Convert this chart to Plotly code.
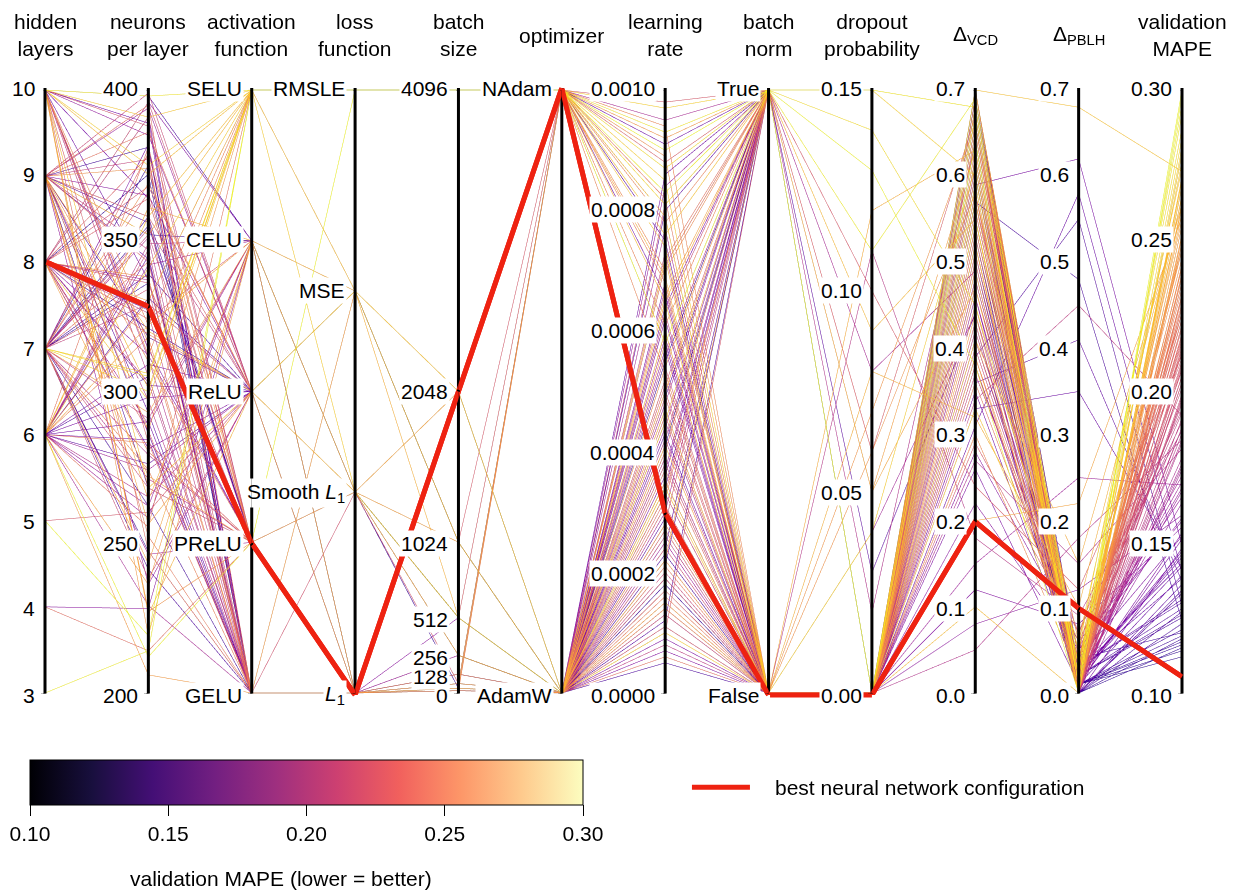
import plotly.graph_objects as go
import plotly.colors as pc

# ---------------- hyper-parameter search results ----------------
hidden_layers = [
    8, 9, 7, 6, 10, 9, 8, 7, 6, 9,
    7, 8, 10, 6, 9, 7, 8, 6, 9, 10,
    6, 7, 9, 8, 7, 6, 10, 9, 8, 7,
    9, 6, 8, 7, 4, 9, 6, 7, 8, 10,
    10, 9, 6, 7, 8, 9, 6, 10, 7, 8,
    6, 9, 7, 8, 10, 6, 9, 7, 4, 8,
    9, 10, 7, 6, 8, 9, 7, 6, 10, 8,
    7, 9, 6, 8, 10, 7, 9, 6, 8, 7,
    10, 9, 6, 7, 10, 8, 6, 9, 10, 7,
    6, 3, 10, 9, 5, 6, 10, 7, 9, 6,
    9, 7, 8, 6, 10, 7, 9, 8, 6, 7,
    10, 8, 9, 6, 7, 8, 10, 9, 7, 6,
    8, 9, 7, 10, 6, 8, 9, 7, 5, 8,
    6, 10, 9, 7, 8, 6, 9, 10, 7, 8,
]
neurons_per_layer = [
    372, 318, 355, 290, 398, 344, 281, 336, 305, 365,
    262, 327, 389, 298, 352, 241, 312, 276, 381, 337,
    309, 358, 286, 396, 247, 331, 364, 293, 321, 382,
    268, 345, 302, 375, 228, 356, 284, 339, 391, 314,
    385, 297, 342, 268, 326, 394, 255, 311, 366, 289,
    347, 236, 379, 303, 322, 274, 358, 291, 214, 337,
    399, 283, 351, 262, 319, 377, 246, 330, 305, 368,
    279, 343, 258, 396, 312, 271, 386, 229, 324, 352,
    398, 352, 236, 305, 268, 330, 212, 287, 375, 243,
    206, 214, 391, 320, 219, 358, 227, 300, 264, 341,
    358, 274, 391, 322, 247, 369, 301, 336, 283, 354,
    219, 378, 310, 265, 343, 297, 388, 252, 329, 361,
    287, 374, 238, 316, 349, 272, 395, 306, 260, 338,
    381, 226, 347, 293, 364, 318, 256, 372, 334, 280,
]
# 0 GELU, 1 PReLU, 2 ReLU, 3 CELU, 4 SELU
activation = [
    0, 2, 1, 0, 3, 0, 2, 1, 0, 2,
    0, 1, 0, 2, 3, 0, 1, 2, 0, 0,
    2, 1, 0, 3, 0, 2, 1, 0, 2, 0,
    1, 0, 2, 0, 3, 1, 0, 2, 0, 1,
    2, 0, 3, 1, 0, 2, 4, 0, 1, 3,
    0, 2, 1, 0, 4, 2, 0, 3, 1, 0,
    2, 1, 0, 3, 2, 0, 1, 4, 0, 2,
    1, 0, 3, 2, 4, 1, 2, 0, 3, 1,
    4, 4, 3, 4, 2, 4, 1, 4, 4, 3,
    0, 4, 4, 2, 4, 4, 1, 4, 3, 4,
    2, 0, 1, 3, 0, 2, 4, 1, 0, 2,
    3, 0, 1, 2, 0, 4, 1, 0, 2, 3,
    0, 1, 2, 0, 3, 1, 0, 4, 2, 0,
    1, 2, 0, 3, 1, 0, 2, 4, 0, 1,
]
# 0 L1, 1 Smooth L1, 2 MSE, 3 RMSLE
loss_function = [
    0, 0, 0, 0, 0, 0, 0, 0, 0, 0,
    0, 0, 0, 0, 1, 0, 0, 0, 0, 0,
    0, 0, 0, 0, 0, 0, 0, 0, 0, 0,
    0, 0, 0, 0, 0, 0, 0, 0, 0, 0,
    0, 0, 1, 0, 0, 0, 3, 0, 0, 1,
    0, 0, 0, 2, 3, 0, 1, 0, 0, 0,
    0, 1, 0, 0, 0, 0, 0, 3, 0, 0,
    1, 0, 0, 0, 3, 0, 0, 0, 1, 0,
    3, 3, 1, 3, 2, 3, 3, 2, 3, 1,
    2, 3, 3, 2, 3, 3, 1, 3, 2, 1,
    0, 0, 0, 1, 0, 0, 2, 0, 0, 0,
    1, 0, 0, 0, 0, 3, 0, 0, 0, 2,
    0, 0, 1, 0, 0, 0, 0, 3, 0, 0,
    0, 1, 0, 0, 0, 0, 2, 3, 0, 0,
]
batch_size = [
    32, 64, 16, 32, 64, 128, 32, 16, 64, 32,
    64, 32, 128, 16, 32, 64, 32, 256, 16, 64,
    32, 128, 64, 32, 16, 64, 32, 64, 128, 32,
    16, 32, 64, 32, 512, 64, 16, 32, 64, 128,
    64, 32, 256, 128, 32, 64, 4096, 16, 64, 512,
    32, 128, 64, 1024, 4096, 256, 64, 32, 128, 64,
    32, 512, 64, 128, 32, 16, 64, 4096, 32, 64,
    256, 128, 32, 64, 4096, 32, 64, 128, 1024, 32,
    4096, 4096, 1024, 4096, 2048, 4096, 4096, 1024, 4096, 2048,
    1024, 4096, 4096, 512, 4096, 4096, 2048, 4096, 1024, 512,
    64, 32, 128, 256, 16, 64, 1024, 32, 64, 128,
    512, 32, 64, 16, 32, 4096, 64, 32, 128, 2048,
    32, 64, 256, 16, 64, 32, 128, 4096, 64, 32,
    16, 512, 64, 32, 128, 64, 1024, 4096, 32, 64,
]
# 0 AdamW, 1 NAdam
optimizer = [
    0, 0, 0, 1, 0, 0, 0, 0, 0, 0,
    0, 0, 0, 0, 0, 0, 0, 0, 0, 1,
    0, 0, 0, 0, 0, 0, 0, 1, 0, 0,
    0, 0, 0, 0, 0, 0, 0, 0, 1, 0,
    0, 0, 0, 0, 0, 0, 1, 0, 0, 1,
    0, 0, 0, 0, 1, 0, 0, 0, 0, 0,
    0, 1, 0, 0, 0, 0, 0, 1, 0, 0,
    0, 0, 0, 0, 1, 0, 0, 0, 1, 0,
    1, 1, 0, 1, 0, 1, 1, 0, 1, 0,
    0, 1, 1, 0, 1, 1, 0, 1, 0, 0,
    0, 1, 0, 0, 0, 1, 0, 0, 0, 0,
    0, 0, 1, 0, 0, 1, 0, 0, 0, 0,
    0, 0, 0, 1, 0, 0, 0, 1, 0, 0,
    0, 0, 0, 1, 0, 0, 0, 1, 0, 0,
]
learning_rate = [
    0.00031, 0.00012, 0.00047, 0.00066, 0.00021, 0.00038, 0.00009, 0.00055, 0.00026, 0.00071,
    0.00015, 0.00043, 0.00034, 0.00062, 0.00018, 0.00049, 0.00027, 0.00080, 0.00011, 0.00058,
    0.00036, 0.00023, 0.00052, 0.00007, 0.00041, 0.00029, 0.00064, 0.00075, 0.00019, 0.00045,
    0.00033, 0.00086, 0.00014, 0.00039, 0.00057, 0.00024, 0.00068, 0.00005, 0.00091, 0.00035,
    0.00044, 0.00017, 0.00059, 0.00028, 0.00073, 0.00037, 0.00082, 0.00022, 0.00051, 0.00095,
    0.00013, 0.00046, 0.00032, 0.00067, 0.00061, 0.00025, 0.00054, 0.00008, 0.00040, 0.00077,
    0.00020, 0.00088, 0.00035, 0.00048, 0.00016, 0.00063, 0.00030, 0.00070, 0.00042, 0.00011,
    0.00056, 0.00027, 0.00084, 0.00038, 0.00053, 0.00019, 0.00072, 0.00045, 0.00098, 0.00033,
    0.00093, 0.00079, 0.00050, 0.00087, 0.00034, 0.00069, 0.00058, 0.00022, 0.00097, 0.00041,
    0.00015, 0.00083, 0.00074, 0.00060, 0.00090, 0.00065, 0.00028, 0.00081, 0.00047, 0.00010,
    0.00052, 0.00078, 0.00019, 0.00066, 0.00037, 0.00089, 0.00045, 0.00024, 0.00071, 0.00013,
    0.00058, 0.00031, 0.00094, 0.00042, 0.00006, 0.00076, 0.00049, 0.00028, 0.00063, 0.00035,
    0.00017, 0.00054, 0.00081, 0.00068, 0.00039, 0.00022, 0.00046, 0.00085, 0.00010, 0.00060,
    0.00033, 0.00072, 0.00026, 0.00092, 0.00050, 0.00014, 0.00065, 0.00079, 0.00040, 0.00021,
]
# 0 False, 1 True
batch_norm = [
    0, 1, 0, 0, 1, 0, 0, 1, 0, 1,
    0, 0, 1, 0, 0, 1, 0, 1, 0, 0,
    1, 0, 0, 0, 1, 0, 1, 0, 0, 1,
    0, 1, 0, 0, 0, 1, 0, 0, 1, 0,
    1, 0, 0, 1, 0, 1, 0, 0, 1, 1,
    0, 0, 1, 0, 1, 0, 0, 0, 1, 0,
    0, 1, 0, 1, 0, 0, 1, 1, 0, 0,
    1, 0, 1, 0, 0, 0, 1, 0, 1, 0,
    1, 0, 1, 1, 0, 0, 1, 0, 1, 0,
    0, 1, 0, 0, 1, 0, 0, 1, 0, 0,
    0, 1, 0, 1, 0, 0, 1, 0, 1, 0,
    1, 0, 0, 1, 0, 1, 0, 0, 1, 0,
    0, 1, 1, 0, 0, 1, 0, 0, 1, 0,
    1, 0, 0, 1, 0, 0, 1, 0, 1, 0,
]
dropout = [
    0.00, 0.00, 0.00, 0.00, 0.00, 0.00, 0.00, 0.00, 0.00, 0.00,
    0.00, 0.00, 0.00, 0.00, 0.00, 0.00, 0.00, 0.03, 0.00, 0.00,
    0.00, 0.00, 0.00, 0.00, 0.00, 0.00, 0.00, 0.00, 0.00, 0.00,
    0.00, 0.00, 0.00, 0.00, 0.00, 0.00, 0.00, 0.00, 0.00, 0.00,
    0.00, 0.00, 0.04, 0.00, 0.00, 0.00, 0.00, 0.00, 0.00, 0.08,
    0.00, 0.00, 0.00, 0.11, 0.00, 0.00, 0.00, 0.00, 0.00, 0.00,
    0.00, 0.06, 0.00, 0.00, 0.00, 0.00, 0.00, 0.00, 0.00, 0.00,
    0.02, 0.00, 0.00, 0.00, 0.00, 0.00, 0.00, 0.00, 0.10, 0.00,
    0.15, 0.00, 0.05, 0.14, 0.00, 0.00, 0.13, 0.07, 0.15, 0.00,
    0.00, 0.11, 0.00, 0.08, 0.00, 0.00, 0.06, 0.00, 0.00, 0.04,
    0.00, 0.00, 0.00, 0.00, 0.00, 0.00, 0.09, 0.00, 0.00, 0.00,
    0.00, 0.00, 0.00, 0.00, 0.00, 0.00, 0.00, 0.00, 0.00, 0.12,
    0.00, 0.00, 0.00, 0.00, 0.00, 0.00, 0.00, 0.00, 0.00, 0.00,
    0.00, 0.00, 0.00, 0.00, 0.00, 0.00, 0.05, 0.00, 0.00, 0.00,
]
delta_vcd = [
    0.62, 0.48, 0.69, 0.35, 0.57, 0.66, 0.41, 0.53, 0.70, 0.28,
    0.45, 0.64, 0.38, 0.59, 0.51, 0.68, 0.22, 0.44, 0.61, 0.33,
    0.55, 0.67, 0.47, 0.12, 0.63, 0.39, 0.58, 0.50, 0.69, 0.26,
    0.43, 0.60, 0.36, 0.65, 0.08, 0.54, 0.46, 0.70, 0.31, 0.57,
    0.66, 0.52, 0.44, 0.69, 0.37, 0.61, 0.58, 0.27, 0.65, 0.49,
    0.70, 0.42, 0.56, 0.18, 0.63, 0.46, 0.68, 0.34, 0.53, 0.60,
    0.40, 0.67, 0.05, 0.55, 0.62, 0.48, 0.69, 0.30, 0.57, 0.43,
    0.64, 0.51, 0.15, 0.66, 0.39, 0.59, 0.47, 0.70, 0.24, 0.54,
    0.68, 0.57, 0.63, 0.45, 0.70, 0.52, 0.38, 0.66, 0.60, 0.20,
    0.49, 0.69, 0.55, 0.32, 0.64, 0.10, 0.58, 0.67, 0.41, 0.61,
    0.67, 0.58, 0.49, 0.70, 0.62, 0.41, 0.55, 0.69, 0.36, 0.64,
    0.52, 0.68, 0.45, 0.60, 0.70, 0.33, 0.57, 0.66, 0.48, 0.63,
    0.69, 0.39, 0.61, 0.54, 0.67, 0.44, 0.70, 0.59, 0.29, 0.65,
    0.50, 0.68, 0.42, 0.62, 0.56, 0.70, 0.47, 0.64, 0.38, 0.60,
]
delta_pblh = [
    0.01, 0.03, 0.00, 0.02, 0.48, 0.01, 0.04, 0.00, 0.02, 0.06,
    0.01, 0.00, 0.03, 0.62, 0.01, 0.02, 0.05, 0.00, 0.01, 0.35,
    0.02, 0.00, 0.03, 0.08, 0.01, 0.55, 0.02, 0.00, 0.04, 0.01,
    0.00, 0.02, 0.41, 0.01, 0.12, 0.03, 0.00, 0.02, 0.58, 0.01,
    0.02, 0.00, 0.04, 0.01, 0.07, 0.03, 0.00, 0.15, 0.02, 0.01,
    0.00, 0.05, 0.02, 0.09, 0.01, 0.03, 0.00, 0.45, 0.02, 0.01,
    0.04, 0.00, 0.18, 0.02, 0.01, 0.03, 0.00, 0.02, 0.06, 0.01,
    0.00, 0.03, 0.25, 0.01, 0.02, 0.00, 0.05, 0.01, 0.12, 0.02,
    0.03, 0.01, 0.00, 0.05, 0.68, 0.02, 0.00, 0.04, 0.01, 0.22,
    0.00, 0.02, 0.03, 0.10, 0.01, 0.00, 0.06, 0.02, 0.15, 0.01,
    0.01, 0.02, 0.00, 0.03, 0.01, 0.05, 0.00, 0.02, 0.04, 0.01,
    0.00, 0.03, 0.01, 0.00, 0.02, 0.06, 0.01, 0.00, 0.03, 0.02,
    0.01, 0.04, 0.00, 0.02, 0.01, 0.00, 0.03, 0.01, 0.07, 0.00,
    0.02, 0.01, 0.05, 0.00, 0.03, 0.01, 0.02, 0.00, 0.04, 0.01,
]
validation_mape = [
    0.112, 0.131, 0.118, 0.145, 0.124, 0.139, 0.152, 0.115, 0.128, 0.157,
    0.121, 0.136, 0.143, 0.149, 0.117, 0.126, 0.158, 0.133, 0.119, 0.141,
    0.147, 0.123, 0.138, 0.155, 0.114, 0.129, 0.146, 0.134, 0.120, 0.151,
    0.127, 0.142, 0.137, 0.116, 0.159, 0.130, 0.148, 0.125, 0.140, 0.153,
    0.163, 0.188, 0.172, 0.205, 0.194, 0.168, 0.228, 0.181, 0.213, 0.176,
    0.199, 0.165, 0.221, 0.187, 0.236, 0.170, 0.208, 0.192, 0.224, 0.178,
    0.201, 0.215, 0.184, 0.167, 0.232, 0.196, 0.174, 0.241, 0.190, 0.210,
    0.183, 0.218, 0.169, 0.203, 0.238, 0.186, 0.226, 0.175, 0.212, 0.197,
    0.292, 0.268, 0.255, 0.287, 0.273, 0.261, 0.298, 0.249, 0.281, 0.258,
    0.252, 0.295, 0.276, 0.264, 0.300, 0.270, 0.247, 0.284, 0.262, 0.279,
    0.214, 0.236, 0.198, 0.257, 0.222, 0.244, 0.268, 0.205, 0.229, 0.191,
    0.251, 0.217, 0.239, 0.184, 0.226, 0.274, 0.209, 0.232, 0.196, 0.262,
    0.219, 0.247, 0.203, 0.234, 0.188, 0.255, 0.224, 0.279, 0.211, 0.242,
    0.228, 0.265, 0.193, 0.249, 0.216, 0.238, 0.259, 0.271, 0.207, 0.231,
]

# best configuration: 8 layers, 328 neurons, PReLU, L1, 2048, NAdam, 3e-4, no BN, no dropout
best_config = [8, 328, 1, 0, 2048, 1, 0.0003, 0, 0.0, 0.20, 0.10, 0.106]

# ---------------- axis definitions ----------------
axis_titles = [
    "hidden<br>layers", "neurons<br>per layer", "activation<br>function", "loss<br>function",
    "batch<br>size", "optimizer", "learning<br>rate", "batch<br>norm",
    "dropout<br>probability", "Δ<sub>VCD</sub>", "Δ<sub>PBLH</sub>", "validation<br>MAPE",
]
axis_ranges = [
    [3, 10], [200, 400], [0, 4], [0, 3], [0, 4096], [0, 1],
    [0, 0.001], [0, 1], [0, 0.15], [0, 0.7], [0, 0.7], [0.10, 0.30],
]
axis_tickvals = [
    [3, 4, 5, 6, 7, 8, 9, 10],
    [200, 250, 300, 350, 400],
    [0, 1, 2, 3, 4],
    [0, 1, 2, 3],
    [0, 128, 256, 512, 1024, 2048, 4096],
    [0, 1],
    [0, 0.0002, 0.0004, 0.0006, 0.0008, 0.001],
    [0, 1],
    [0, 0.05, 0.10, 0.15],
    [0, 0.1, 0.2, 0.3, 0.4, 0.5, 0.6, 0.7],
    [0, 0.1, 0.2, 0.3, 0.4, 0.5, 0.6, 0.7],
    [0.10, 0.15, 0.20, 0.25, 0.30],
]
axis_ticktext = [
    ["3", "4", "5", "6", "7", "8", "9", "10"],
    ["200", "250", "300", "350", "400"],
    ["GELU", "PReLU", "ReLU", "CELU", "SELU"],
    ["<i>L</i><sub>1</sub>", "Smooth <i>L</i><sub>1</sub>", "MSE", "RMSLE"],
    ["0", "128", "256", "512", "1024", "2048", "4096"],
    ["AdamW", "NAdam"],
    ["0.0000", "0.0002", "0.0004", "0.0006", "0.0008", "0.0010"],
    ["False", "True"],
    ["0.00", "0.05", "0.10", "0.15"],
    ["0.0", "0.1", "0.2", "0.3", "0.4", "0.5", "0.6", "0.7"],
    ["0.0", "0.1", "0.2", "0.3", "0.4", "0.5", "0.6", "0.7"],
    ["0.10", "0.15", "0.20", "0.25", "0.30"],
]
columns = [
    hidden_layers, neurons_per_layer, activation, loss_function, batch_size, optimizer,
    learning_rate, batch_norm, dropout, delta_vcd, delta_pblh, validation_mape,
]

colorbar_ticks = [0.10, 0.15, 0.20, 0.25, 0.30]
colorbar_labels = ["0.10", "0.15", "0.20", "0.25", "0.30"]

FONT = "Liberation Sans, Arial, Helvetica, sans-serif"
BEST_RED = "#ee2211"
MAPE_MIN, MAPE_MAX = 0.10, 0.30


def translucent(scale, alpha):
    stops = []
    for i, c in enumerate(scale):
        r, g, b = pc.hex_to_rgb(c)
        stops.append([i / (len(scale) - 1), f"rgba({r},{g},{b},{alpha})"])
    return stops


def scaled(value, rng):
    lo, hi = rng
    return (value - lo) / (hi - lo)


# tick marks come from the parcoords axes, the labels are boxed annotations
dimensions = [
    dict(label="", values=col, range=rng, tickvals=tv, ticktext=[""] * len(tv))
    for col, rng, tv in zip(columns, axis_ranges, axis_tickvals)
]

fig = go.Figure()
fig.add_trace(go.Parcoords(
    domain=dict(x=[0, 1], y=[0, 1]),
    dimensions=dimensions,
    line=dict(color=validation_mape, colorscale=translucent(pc.sequential.Plasma, 0.85),
              cmin=MAPE_MIN, cmax=MAPE_MAX, showscale=False),
    tickfont=dict(family=FONT, size=12, color="black"),
    labelfont=dict(family=FONT, size=12, color="black"),
))

n_axes = len(columns)
axis_index = list(range(n_axes))
best_scaled = [scaled(v, rng) for v, rng in zip(best_config, axis_ranges)]

fig.add_trace(go.Scatter(
    x=axis_index, y=best_scaled, mode="lines", cliponaxis=False,
    line=dict(color=BEST_RED, width=5),
    name="best neural network configuration", hoverinfo="skip", showlegend=False,
))
# small marks under each axis
fig.add_trace(go.Scatter(
    x=axis_index, y=[-0.009] * n_axes, mode="markers", cliponaxis=False,
    marker=dict(symbol="line-ew-open", size=8, line=dict(color="#e060d0", width=1.5)),
    showlegend=False, hoverinfo="skip",
))
# colour bar for the validation error
fig.add_trace(go.Scatter(
    x=[None], y=[None], mode="markers", showlegend=False, hoverinfo="skip",
    marker=dict(
        color=[MAPE_MIN], cmin=MAPE_MIN, cmax=MAPE_MAX, colorscale="Magma", showscale=True,
        colorbar=dict(
            orientation="h", x=0.23, xanchor="center", y=-0.107, yanchor="top",
            lenmode="pixels", len=553, thickness=45, xpad=0, ypad=0,
            outlinewidth=1, outlinecolor="black",
            tickvals=colorbar_ticks, ticktext=colorbar_labels,
            ticks="outside", ticklen=11, tickcolor="black",
            tickfont=dict(family=FONT, size=21, color="black"),
        ),
    ),
))

annotations = []
# thick axis lines
for i in axis_index:
    annotations.append(dict(
        x=i, y=1, ax=i, ay=0, xref="x", yref="y", axref="x", ayref="y",
        text="", showarrow=True, arrowhead=0, arrowwidth=3, arrowcolor="black",
        standoff=0, startstandoff=0,
    ))
# best configuration drawn above the other lines
for i in axis_index[:-1]:
    annotations.append(dict(
        x=i + 1, y=best_scaled[i + 1], ax=i, ay=best_scaled[i],
        xref="x", yref="y", axref="x", ayref="y",
        text="", showarrow=True, arrowhead=0, arrowwidth=5, arrowcolor=BEST_RED,
        standoff=0, startstandoff=0,
    ))
# tick labels on white boxes
for i, rng, tvs, tts in zip(axis_index, axis_ranges, axis_tickvals, axis_ticktext):
    for tv, tt in zip(tvs, tts):
        annotations.append(dict(
            x=i, y=scaled(tv, rng), xref="x", yref="y", text=tt, showarrow=False,
            xanchor="right", yanchor="middle", xshift=-8, bgcolor="white", borderpad=1,
            font=dict(family=FONT, size=21, color="black"),
        ))
# axis titles
for i, title in zip(axis_index, axis_titles):
    annotations.append(dict(
        x=i, y=1.087, xref="x", yref="paper", text=title, showarrow=False,
        xanchor="center", yanchor="middle",
        font=dict(family=FONT, size=21, color="black"),
    ))
# colour bar title
annotations.append(dict(
    x=0.2076, y=-0.3015, xref="paper", yref="paper", showarrow=False,
    text="validation MAPE (lower = better)", xanchor="center", yanchor="middle",
    font=dict(family=FONT, size=21, color="black"),
))
# legend entry for the best configuration
annotations.append(dict(
    x=0.640, y=-0.152, xref="paper", yref="paper", showarrow=False,
    text="best neural network configuration", xanchor="left", yanchor="middle",
    font=dict(family=FONT, size=21, color="black"),
))

fig.update_layout(
    width=1235, height=890,
    margin=dict(l=45, r=53, t=88, b=195),
    paper_bgcolor="white", plot_bgcolor="rgba(0,0,0,0)",
    font=dict(family=FONT, size=20, color="black"),
    xaxis=dict(range=[0, n_axes - 1], visible=False, fixedrange=True),
    yaxis=dict(range=[0, 1], visible=False, fixedrange=True),
    showlegend=False,
    shapes=[dict(type="line", xref="paper", yref="paper", x0=0.569, x1=0.620,
                 y0=-0.152, y1=-0.152, line=dict(color=BEST_RED, width=5))],
    annotations=annotations,
)

fig.write_html("out.html")
